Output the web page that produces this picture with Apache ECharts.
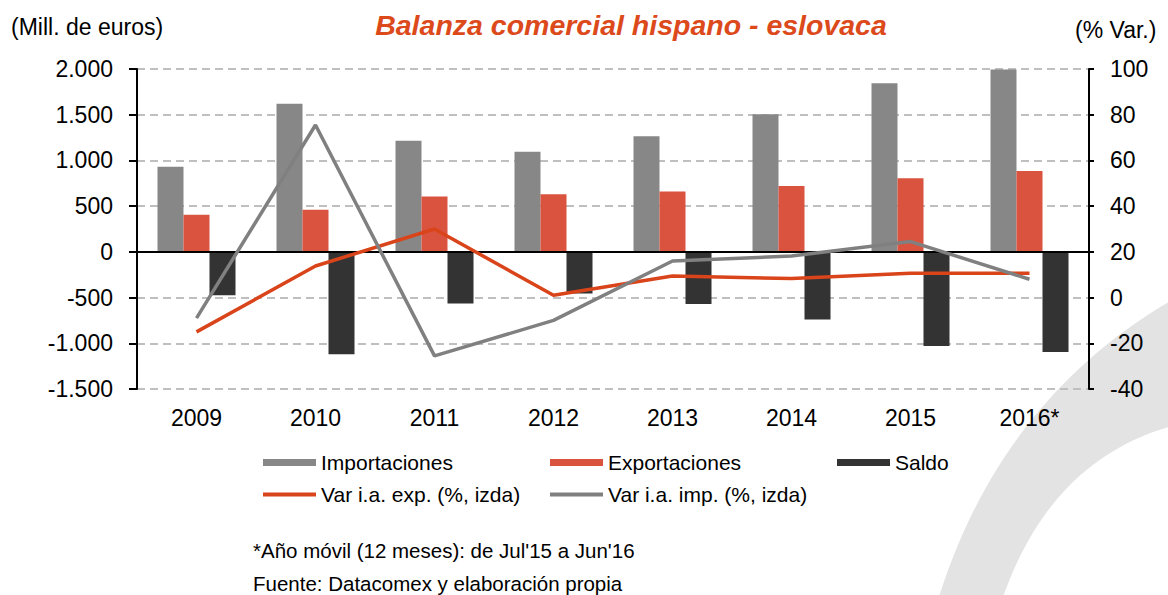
<!DOCTYPE html>
<html>
<head>
<meta charset="utf-8">
<script src="https://cdn.jsdelivr.net/npm/echarts@6/dist/echarts.min.js"></script>
<style>
  html, body { margin: 0; padding: 0; background: #ffffff; }
  #chart { width: 1168px; height: 595px; }
</style>
</head>
<body>
<div id="chart"></div>
<script>
const categories = ['2009', '2010', '2011', '2012', '2013', '2014', '2015', '2016*'];
const importaciones = [930, 1620, 1215, 1095, 1265, 1505, 1845, 1995];
const exportaciones = [405, 460, 605, 630, 660, 720, 805, 885];
const saldo = [-475, -1120, -565, -455, -570, -740, -1030, -1095];
const varExp = [-15, 13.8, 30, 1, 9.4, 8.3, 10.6, 10.6];
const varImp = [-9, 75.5, -25.5, -10, 16, 18.2, 24.5, 8];
const leftAxis = { min: -1500, max: 2000, interval: 500 };
const rightAxis = { min: -40, max: 100, interval: 20 };

const FONT = "'Liberation Sans', Arial, sans-serif";
const C_IMP = '#878787', C_EXP = '#d9533f', C_SAL = '#333333';
const C_LEXP = '#d9441a', C_LIMP = '#808080';

// decorative background swoosh (not data)
function quad(p0, p1, p2, n) {
  const pts = [];
  for (let i = 0; i <= n; i++) {
    const t = i / n, u = 1 - t;
    pts.push([u*u*p0[0] + 2*u*t*p1[0] + t*t*p2[0], u*u*p0[1] + 2*u*t*p1[1] + t*t*p2[1]]);
  }
  return pts;
}
const outer = quad([938, 600], [1000, 400], [1172, 300], 30);
const inner = quad([1172, 426], [1050, 460], [1002, 600], 30);
const swoosh = outer.concat(inner);

function fmtThousands(v) {
  const s = Math.abs(v).toString().replace(/\B(?=(\d{3})+(?!\d))/g, '.');
  return (v < 0 ? '-' : '') + s;
}

const chart = echarts.init(document.getElementById('chart'), null, { renderer: 'svg' });

function legendAt(name, left, top, h) {
  return {
    data: [{ name: name, icon: 'rect' }],
    left: left, top: top,
    itemWidth: 53, itemHeight: h,
    textStyle: { fontFamily: FONT, fontSize: 21, color: '#000' },
    selectedMode: false
  };
}

chart.setOption({
  animation: false,
  backgroundColor: '#ffffff',
  grid: { left: 137, right: 79, top: 69, bottom: 206, containLabel: false },
  graphic: [
    { type: 'polygon', z: -10, silent: true, shape: { points: swoosh }, style: { fill: '#e3e3e3' } },
    { type: 'text', x: 11, y: 27, style: { text: '(Mill. de euros)', font: '23px ' + FONT, fill: '#000', textVerticalAlign: 'middle' } },
    { type: 'text', x: 631, y: 25, style: { text: 'Balanza comercial hispano - eslovaca', font: 'italic bold 28.5px ' + FONT, fill: '#dc4a1c', textAlign: 'center', textVerticalAlign: 'middle' } },
    { type: 'text', x: 1075, y: 30, style: { text: '(% Var.)', font: '23px ' + FONT, fill: '#000', textVerticalAlign: 'middle' } },
    { type: 'text', x: 253, y: 550, style: { text: "*Año móvil (12 meses): de Jul'15 a Jun'16", font: '20.5px ' + FONT, fill: '#000', textVerticalAlign: 'middle' } },
    { type: 'text', x: 253, y: 583, style: { text: 'Fuente: Datacomex y elaboración propia', font: '20.5px ' + FONT, fill: '#000', textVerticalAlign: 'middle' } }
  ],
  legend: [
    legendAt('Importaciones', 258, 447, 7),
    legendAt('Exportaciones', 545, 447, 7),
    legendAt('Saldo', 832, 447, 7),
    legendAt('Var i.a. exp. (%, izda)', 258, 479, 4),
    legendAt('Var i.a. imp. (%, izda)', 545, 479, 4)
  ],
  xAxis: {
    type: 'category',
    data: categories,
    boundaryGap: true,
    axisLine: { show: false },
    axisTick: { show: false },
    axisLabel: { fontFamily: FONT, fontSize: 23, color: '#000', margin: 17 }
  },
  yAxis: [
    {
      type: 'value', position: 'left',
      min: leftAxis.min, max: leftAxis.max, interval: leftAxis.interval,
      axisLine: { show: true, lineStyle: { color: '#000', width: 2 } },
      axisTick: { show: true, length: 8, lineStyle: { color: '#000', width: 2 } },
      axisLabel: { fontFamily: FONT, fontSize: 23, color: '#000', margin: 24, formatter: fmtThousands },
      splitLine: { show: true, lineStyle: { color: '#bfbfbf', width: 2, type: [8, 5] } }
    },
    {
      type: 'value', position: 'right',
      min: rightAxis.min, max: rightAxis.max, interval: rightAxis.interval,
      axisLine: { show: true, lineStyle: { color: '#000', width: 2 } },
      axisTick: { show: true, length: 5, lineStyle: { color: '#000', width: 2 } },
      axisLabel: { fontFamily: FONT, fontSize: 23, color: '#000', margin: 21 },
      splitLine: { show: false }
    }
  ],
  series: [
    { name: 'Importaciones', type: 'bar', data: importaciones, barWidth: 26, barGap: '0%', itemStyle: { color: C_IMP } },
    { name: 'Exportaciones', type: 'bar', data: exportaciones, barWidth: 26, barGap: '0%', itemStyle: { color: C_EXP } },
    {
      name: 'Saldo', type: 'bar', data: saldo, barWidth: 26, barGap: '0%', itemStyle: { color: C_SAL },
      markLine: {
        silent: true, symbol: ['none', 'none'], label: { show: false },
        lineStyle: { color: '#000', width: 2, type: 'solid' },
        data: [{ yAxis: 0 }]
      }
    },
    {
      name: 'Var i.a. exp. (%, izda)', type: 'line', yAxisIndex: 1, data: varExp,
      showSymbol: false, symbol: 'none',
      lineStyle: { color: C_LEXP, width: 3.5 }, itemStyle: { color: C_LEXP }, z: 5
    },
    {
      name: 'Var i.a. imp. (%, izda)', type: 'line', yAxisIndex: 1, data: varImp,
      showSymbol: false, symbol: 'none',
      lineStyle: { color: C_LIMP, width: 3.5 }, itemStyle: { color: C_LIMP }, z: 6
    }
  ]
});
</script>
</body>
</html>
